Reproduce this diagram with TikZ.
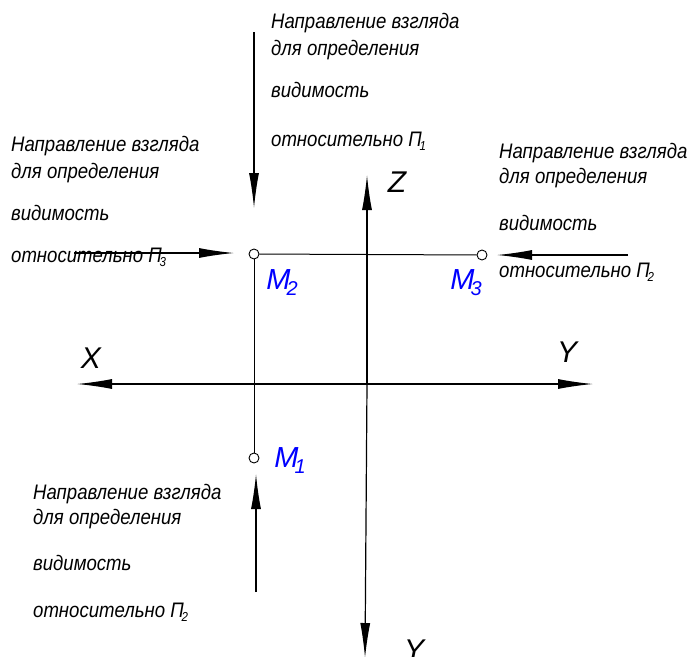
\documentclass[tikz,border=0pt]{standalone}
\usepackage{fontspec}
\setmainfont{Liberation Sans}
\usetikzlibrary{arrows.meta}
\newcommand{\Pisub}[1]{П\kern-2.5pt\raisebox{-4pt}{\fontsize{13}{13}\selectfont #1}}
\newcommand{\Msub}[1]{M\kern-4pt\raisebox{-6pt}{\fontsize{20}{20}\selectfont #1}}
\begin{document}
\begin{tikzpicture}[x=1pt,y=-1pt,
  txt/.style={anchor=base west,inner sep=0pt,font=\fontsize{21}{21}\selectfont\itshape,xscale=0.885},
  axlbl/.style={inner sep=0pt,font=\fontsize{30}{30}\selectfont\itshape},
  mlbl/.style={inner sep=0pt,text=mblue,font=\fontsize{29}{29}\selectfont\itshape},
  pt/.style={circle,draw,fill=white,line width=0.9pt,minimum size=10pt,inner sep=0pt},
  ln/.style={line width=1pt},
  arr/.style={line width=1.2pt,-{Latex[length=35pt,width=10pt]}}]
\definecolor{mblue}{RGB}{0,0,255}
\useasboundingbox (0,0) rectangle (700,656);
% axis coordinates
\coordinate (xl) at (77,384);
\coordinate (xr) at (593,384);
\coordinate (zt) at (367,175);
\coordinate (zb) at (365,658);
\coordinate (ax0) at (367,384);
% axes
\draw[arr] (ax0) -- (xl);
\draw[arr] (ax0) -- (xr);
\draw[arr] (ax0) -- (zt);
\draw[arr] (ax0) -- (zb);
% points
\node[pt] (M2) at (254,254) {};
\node[pt] (M3) at (482,255) {};
\node[pt] (M1) at (254,458) {};
\draw[ln] (M2) -- (M3);
\draw[ln] (M2) -- (M1);
% viewing arrows
\coordinate (a1) at (254,32);
\coordinate (a1t) at (254,208);
\draw[arr] (a1) -- (a1t);
\coordinate (a3) at (74,253);
\coordinate (a3t) at (234,253);
\draw[arr] (a3) -- (a3t);
\coordinate (a2) at (628,255);
\coordinate (a2t) at (497,255);
\draw[arr] (a2) -- (a2t);
\coordinate (a4) at (256,592);
\coordinate (a4t) at (256,474);
\draw[arr] (a4) -- (a4t);
% axis labels
\node[axlbl] (lX) at (91,358) {X};
\node[axlbl] (lY) at (567,352) {Y};
\node[axlbl] (lZ) at (397,182) {Z};
\node[axlbl] (lY2) at (414,650) {Y};
% point labels
\node[mlbl] (lM2) at (282,283) {\Msub{2}};
\node[mlbl] (lM3) at (466,283) {\Msub{3}};
\node[mlbl] (lM1) at (290,461) {\Msub{1}};
% top block
\node[txt] (t1) at (271,28) {Направление взгляда};
\node[txt] (t2) at (271,55) {для определения};
\node[txt] (t3) at (271,97) {видимость};
\node[txt] (t4) at (271,146) {относительно \Pisub{1}};
% left block
\node[txt] (l1) at (11,151) {Направление взгляда};
\node[txt] (l2) at (11,178) {для определения};
\node[txt] (l3) at (11,220) {видимость};
\node[txt] (l4) at (11,262) {относительно \Pisub{3}};
% right block
\node[txt] (r1) at (499,158) {Направление взгляда};
\node[txt] (r2) at (499,183) {для определения};
\node[txt] (r3) at (499,230) {видимость};
\node[txt] (r4) at (499,277) {относительно \Pisub{2}};
% bottom block
\node[txt] (b1) at (33,499) {Направление взгляда};
\node[txt] (b2) at (33,524) {для определения};
\node[txt] (b3) at (33,570) {видимость};
\node[txt] (b4) at (33,617) {относительно \Pisub{2}};
\end{tikzpicture}
\end{document}
